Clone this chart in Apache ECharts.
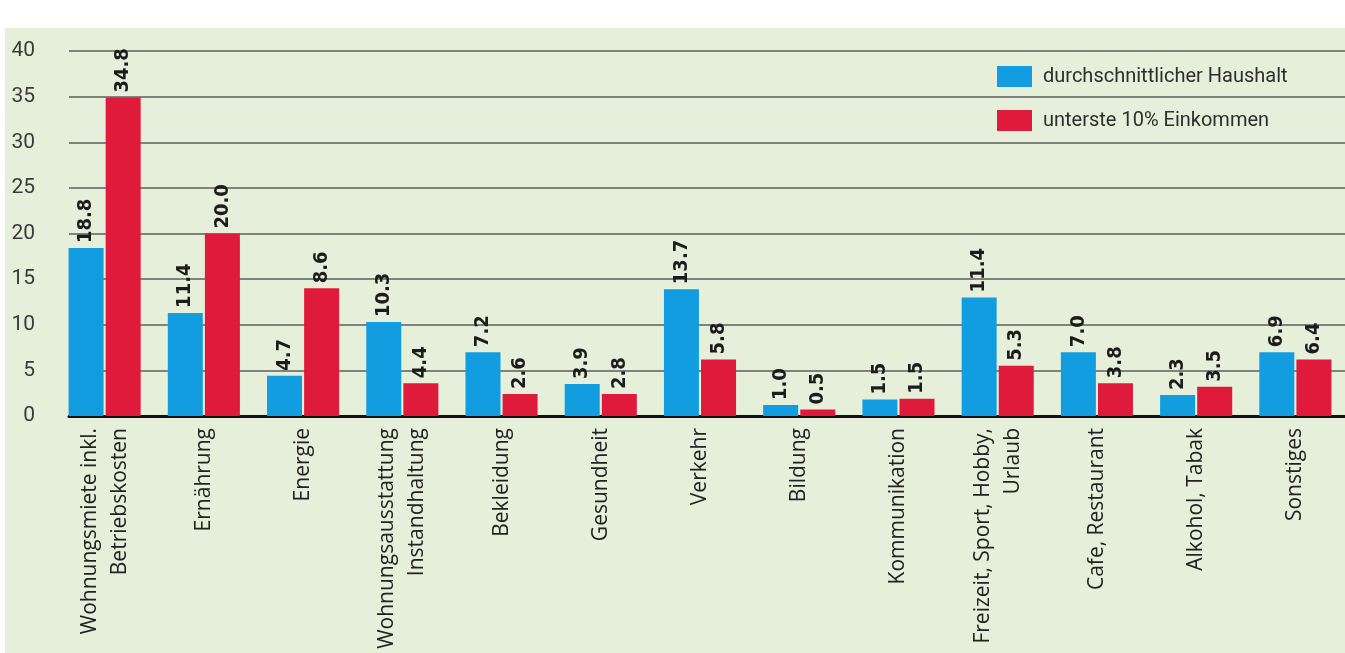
<!DOCTYPE html>
<html>
<head>
<meta charset="utf-8">
<script src="https://cdn.jsdelivr.net/npm/echarts@6/dist/echarts.min.js"></script>
<style>
  html, body { margin: 0; padding: 0; background: #ffffff; }
  #bg { position: absolute; left: 5px; top: 28px; width: 1340px; height: 625px; background: #e6efd9; }
  #chart { position: absolute; left: 0; top: 0; width: 1345px; height: 653px; }
</style>
</head>
<body>
<div id="bg"></div>
<div id="chart"></div>
<script>
// Categories (x axis)
const categories = [
  'Wohnungsmiete inkl.\nBetriebskosten',
  'Ernährung',
  'Energie',
  'Wohnungsausstattung\nInstandhaltung',
  'Bekleidung',
  'Gesundheit',
  'Verkehr',
  'Bildung',
  'Kommunikation',
  'Freizeit, Sport, Hobby,\nUrlaub',
  'Cafe, Restaurant',
  'Alkohol, Tabak',
  'Sonstiges'
];
// Series names
const seriesNames = ['durchschnittlicher Haushalt', 'unterste 10% Einkommen'];
// Bar heights as drawn in the picture
const avgHousehold = [18.4, 11.3, 4.4, 10.3, 7.0, 3.5, 13.9, 1.2, 1.8, 13.0, 7.0, 2.3, 7.0];
const lowest10 = [34.9, 20.0, 14.0, 3.6, 2.4, 2.4, 6.2, 0.7, 1.9, 5.5, 3.6, 3.2, 6.2];
// Printed value labels
const avgLabels = ['18.8', '11.4', '4.7', '10.3', '7.2', '3.9', '13.7', '1.0', '1.5', '11.4', '7.0', '2.3', '6.9'];
const lowLabels = ['34.8', '20.0', '8.6', '4.4', '2.6', '2.8', '5.8', '0.5', '1.5', '5.3', '3.8', '3.5', '6.4'];
// Y axis ticks
const yMin = 0, yMax = 40, yStep = 5;

const chart = echarts.init(document.getElementById('chart'), null, { renderer: 'canvas' });

const labelStyle = (labels) => ({
  show: true,
  position: 'top',
  rotate: 90,
  align: 'left',
  verticalAlign: 'middle',
  distance: 5,
  fontSize: 20,
  fontWeight: 'bold',
  fontFamily: 'DejaVu Sans Condensed, DejaVu Sans',
  color: '#1c1c1c',
  formatter: (p) => labels[p.dataIndex]
});

chart.setOption({
  backgroundColor: 'transparent',
  animation: false,
  legend: {
    orient: 'vertical',
    left: 997,
    top: 66,
    padding: 0,
    itemWidth: 35,
    itemHeight: 21,
    itemGap: 23,
    icon: 'rect',
    textStyle: { fontFamily: 'Roboto', fontSize: 20, color: '#2e2e2e', padding: [0, 0, 0, 6] },
    data: seriesNames
  },
  grid: [
    { left: 55, width: 1293, top: 51, height: 365 },
    { left: 69, right: 0, top: 51, height: 365 }
  ],
  xAxis: [
    {
      gridIndex: 0,
      type: 'category',
      data: categories,
      axisLine: { show: false },
      axisTick: { show: false },
      axisLabel: {
        interval: 0,
        rotate: 90,
        margin: 12,
        fontSize: 21,
        lineHeight: 30,
        fontFamily: 'Open Sans',
        color: '#222222'
      }
    },
    {
      gridIndex: 1,
      type: 'category',
      data: [''],
      axisLine: { show: true, lineStyle: { color: '#111111', width: 3 } },
      axisTick: { show: false },
      axisLabel: { show: false }
    }
  ],
  yAxis: [
    {
      gridIndex: 0,
      type: 'value',
      min: yMin, max: yMax, interval: yStep,
      axisLine: { show: false },
      axisTick: { show: false },
      splitLine: { show: false },
      axisLabel: { margin: 20, fontSize: 21, fontFamily: 'Roboto', color: '#3a3a3a' }
    },
    {
      gridIndex: 1,
      type: 'value',
      min: yMin, max: yMax, interval: yStep,
      axisLine: { show: false },
      axisTick: { show: false },
      axisLabel: { show: false },
      splitLine: { show: true, lineStyle: { color: '#5e5e5e', width: 1.5 } }
    }
  ],
  series: [
    {
      name: seriesNames[0],
      type: 'bar',
      xAxisIndex: 0, yAxisIndex: 0,
      data: avgHousehold,
      barWidth: 35,
      barGap: '6%',
      itemStyle: { color: '#119ddf' },
      label: labelStyle(avgLabels),
      z: 3
    },
    {
      name: seriesNames[1],
      type: 'bar',
      xAxisIndex: 0, yAxisIndex: 0,
      data: lowest10,
      barWidth: 35,
      barGap: '6%',
      itemStyle: { color: '#e01a3b' },
      label: labelStyle(lowLabels),
      z: 3
    }
  ]
});
</script>
</body>
</html>
